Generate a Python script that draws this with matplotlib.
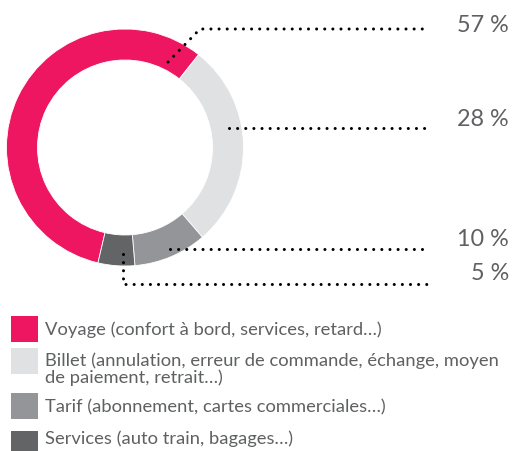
import matplotlib
matplotlib.use("Agg")
import matplotlib.pyplot as plt
from matplotlib.patches import Rectangle

categories = ["Voyage (confort à bord, services, retard…)",
              "Billet (annulation, erreur de commande, échange, moyen\nde paiement, retrait…)",
              "Tarif (abonnement, cartes commerciales…)",
              "Services (auto train, bagages…)"]
values = [57, 28, 10, 5]
pct_labels = ["57 %", "28 %", "10 %", "5 %"]
colors = ["#EE1660", "#E0E1E3", "#939598", "#636466"]

W, H = 519, 451
fig = plt.figure(figsize=(W / 100, H / 100), dpi=100)
ax = fig.add_axes([0, 0, 1, 1])

def Y(py):
    return H - py

cx, cy, R = 125, Y(147.5), 118.5
ax.pie(values, colors=colors, startangle=256.8, counterclock=False,
       center=(cx, cy), radius=R,
       wedgeprops=dict(width=31, linewidth=0.6, edgecolor="white"))
ax.set_xlim(0, W)
ax.set_ylim(0, H)
ax.set_aspect("equal")
ax.axis("off")

dot = dict(color="black", linewidth=2.2, linestyle=(0, (0.01, 2.65)),
           dash_capstyle="round", solid_capstyle="round")
# leader lines (pixel paths)
paths = [
    [(168, 62), (200, 29), (429, 29)],
    [(229, 128), (429, 128)],
    [(170, 249), (430, 249)],
    [(122.5, 254), (122.5, 284), (430, 284)],
]
for p in paths:
    ax.plot([q[0] for q in p], [Y(q[1]) for q in p], **dot)

label_y = [25, 120, 239, 273]
for lab, py in zip(pct_labels, label_y):
    ax.text(509, Y(py), lab, ha="right", va="center", fontsize=16.8,
            color="#5F6062", family="Lato", fontweight="normal")

# legend
sq_top = [316, 348, 393, 431]
txt_y = [330, 369, 407, 439]
for cat, col, st, ty in zip(categories, colors, sq_top, txt_y):
    ax.add_patch(Rectangle((11, Y(st + 26)), 27, 26, color=col, lw=0))
    ax.text(45, Y(ty), cat, ha="left", va="center", fontsize=13.2,
            color="#5F6062", family="Lato", fontweight="normal",
            linespacing=1.0)

fig.savefig("out.png", dpi=100, facecolor="white")
